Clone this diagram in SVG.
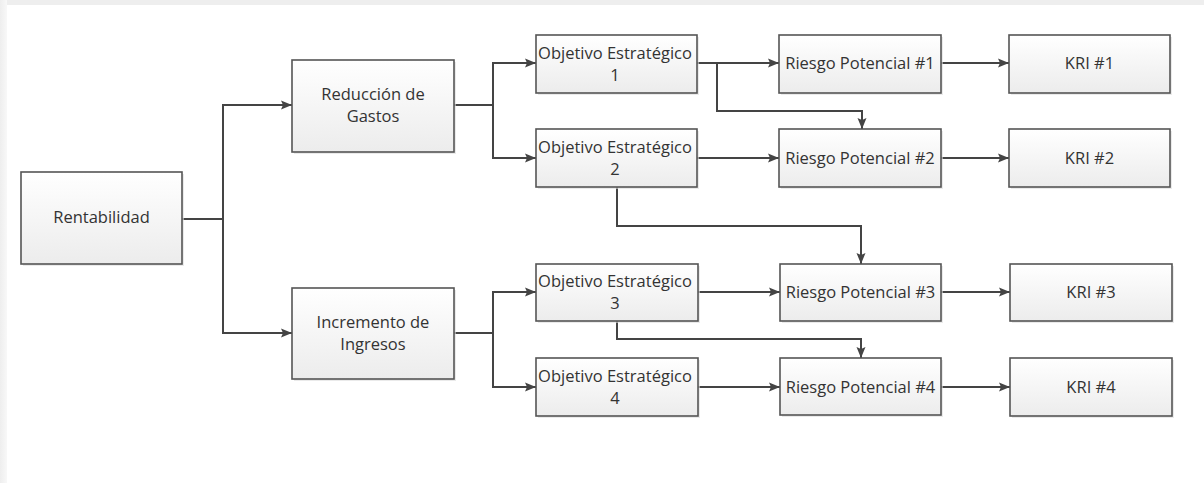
<svg xmlns="http://www.w3.org/2000/svg" width="1204" height="483" viewBox="0 0 1204 483">
<defs>
<linearGradient id="g" x1="0" y1="0" x2="0" y2="1">
<stop offset="0" stop-color="#ffffff"/>
<stop offset="1" stop-color="#ececec"/>
</linearGradient>
<linearGradient id="lg" x1="0" y1="0" x2="1" y2="0">
<stop offset="0" stop-color="#eeeeee"/>
<stop offset="1" stop-color="#f8f8f8"/>
</linearGradient>
<marker id="ah" markerUnits="userSpaceOnUse" markerWidth="12" markerHeight="12" viewBox="0 0 12 12" refX="11" refY="6" orient="auto">
<path d="M0,1.5 L11,6 L0,10.5 L2,6 Z" fill="#444"/>
</marker>
<style>
.n rect.b{fill:url(#g);stroke:#555;stroke-width:1.6}
.n rect.s{fill:#dcdcdc;opacity:0.6}
.n text{font-family:"Open Sans","Noto Sans",sans-serif;font-size:16.5px;fill:#333;text-anchor:middle}
#connectors path{fill:none;stroke:#444;stroke-width:2}
#connectors path.a{marker-end:url(#ah)}
</style>
</defs>
<rect x="0" y="0" width="1204" height="483" fill="#ffffff"/>
<rect x="0" y="0" width="1204" height="5" fill="#eeeeee"/>
<rect x="0" y="0" width="7" height="483" fill="url(#lg)"/>

<g id="connectors">
<path d="M182,219 H223"/>
<path class="a" d="M223,219 V105 H292"/>
<path class="a" d="M223,219 V333 H292"/>
<path class="a" d="M454,105 H493 V63 H536"/>
<path class="a" d="M493,105 V158 H536"/>
<path class="a" d="M454,333 H493 V292 H536"/>
<path class="a" d="M493,333 V387 H536"/>
<path class="a" d="M697,63 H779"/>
<path class="a" d="M717,63 V111 H862 V129"/>
<path class="a" d="M697,158 H779"/>
<path class="a" d="M617,187 V226 H861 V264"/>
<path class="a" d="M698,292 H780"/>
<path class="a" d="M617,321 V339 H861 V358"/>
<path class="a" d="M698,387 H780"/>
<path class="a" d="M941,63 H1009"/>
<path class="a" d="M941,158 H1009"/>
<path class="a" d="M941,292 H1010"/>
<path class="a" d="M941,387 H1010"/>
</g>

<g id="rentabilidad" class="n">
<rect class="s" x="23" y="174" width="161" height="92"/>
<rect class="b" x="21" y="172" width="161" height="92"/>
<text x="101.5" y="223">Rentabilidad</text>
</g>
<g id="reduccion" class="n">
<rect class="s" x="294" y="62" width="162" height="92"/>
<rect class="b" x="292" y="60" width="162" height="92"/>
<text x="373" y="100">Reducción de</text>
<text x="373" y="122">Gastos</text>
</g>
<g id="incremento" class="n">
<rect class="s" x="294" y="290" width="162" height="91"/>
<rect class="b" x="292" y="288" width="162" height="91"/>
<text x="373" y="328">Incremento de</text>
<text x="373" y="350">Ingresos</text>
</g>

<g id="obj1" class="n">
<rect class="s" x="538" y="37" width="161" height="58"/>
<rect class="b" x="536" y="35" width="161" height="58"/>
<text x="615" y="59">Objetivo Estratégico</text>
<text x="615" y="81">1</text>
</g>
<g id="obj2" class="n">
<rect class="s" x="538" y="131" width="161" height="58"/>
<rect class="b" x="536" y="129" width="161" height="58"/>
<text x="615" y="153">Objetivo Estratégico</text>
<text x="615" y="175">2</text>
</g>
<g id="obj3" class="n">
<rect class="s" x="538" y="266" width="162" height="57"/>
<rect class="b" x="536" y="264" width="162" height="57"/>
<text x="615" y="287">Objetivo Estratégico</text>
<text x="615" y="309">3</text>
</g>
<g id="obj4" class="n">
<rect class="s" x="538" y="360" width="162" height="58"/>
<rect class="b" x="536" y="358" width="162" height="58"/>
<text x="615" y="382">Objetivo Estratégico</text>
<text x="615" y="404">4</text>
</g>

<g id="riesgo1" class="n">
<rect class="s" x="781" y="37" width="162" height="58"/>
<rect class="b" x="779" y="35" width="162" height="58"/>
<text x="860" y="69">Riesgo Potencial #1</text>
</g>
<g id="riesgo2" class="n">
<rect class="s" x="781" y="131" width="162" height="58"/>
<rect class="b" x="779" y="129" width="162" height="58"/>
<text x="860" y="164">Riesgo Potencial #2</text>
</g>
<g id="riesgo3" class="n">
<rect class="s" x="782" y="266" width="161" height="57"/>
<rect class="b" x="780" y="264" width="161" height="57"/>
<text x="860.5" y="298">Riesgo Potencial #3</text>
</g>
<g id="riesgo4" class="n">
<rect class="s" x="782" y="360" width="161" height="57"/>
<rect class="b" x="780" y="358" width="161" height="57"/>
<text x="860.5" y="393">Riesgo Potencial #4</text>
</g>

<g id="kri1" class="n">
<rect class="s" x="1011" y="37" width="161" height="58"/>
<rect class="b" x="1009" y="35" width="161" height="58"/>
<text x="1089.5" y="69">KRI #1</text>
</g>
<g id="kri2" class="n">
<rect class="s" x="1011" y="131" width="161" height="58"/>
<rect class="b" x="1009" y="129" width="161" height="58"/>
<text x="1089.5" y="164">KRI #2</text>
</g>
<g id="kri3" class="n">
<rect class="s" x="1012" y="266" width="162" height="57"/>
<rect class="b" x="1010" y="264" width="162" height="57"/>
<text x="1091" y="298">KRI #3</text>
</g>
<g id="kri4" class="n">
<rect class="s" x="1012" y="360" width="162" height="58"/>
<rect class="b" x="1010" y="358" width="162" height="58"/>
<text x="1091" y="393">KRI #4</text>
</g>
</svg>
